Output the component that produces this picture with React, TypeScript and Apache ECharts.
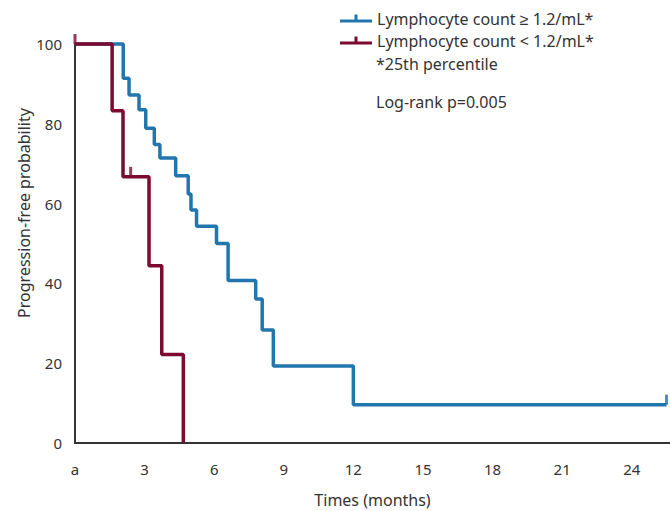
import React, { useEffect, useRef } from "react";
import * as echarts from "echarts";

const xTickLabels = ["a", "3", "6", "9", "12", "15", "18", "21", "24"];
const highName = "Lymphocyte count \u2265 1.2/mL*";
const lowName = "Lymphocyte count < 1.2/mL*";

// Kaplan-Meier steps: [time (months), survival %]
const highTimes = [0, 2.08, 2.33, 2.76, 3.05, 3.42, 3.66, 4.34, 4.88, 5.0, 5.24, 6.1, 6.6, 7.79, 8.07, 8.55, 12.0, 25.5];
const highValues = [100, 91.4, 87.2, 83.5, 78.9, 74.8, 71.4, 67.0, 62.4, 58.4, 54.3, 50.0, 40.7, 36.1, 28.3, 19.3, 9.6, 9.6];
const lowTimes = [0, 1.6, 2.07, 3.19, 3.74, 4.67];
const lowValues = [100, 83.3, 66.7, 44.4, 22.2, 0];
// censored marks
const highCensorTimes = [25.5];
const highCensorValues = [9.6];
const lowCensorTimes = [0, 2.4];
const lowCensorValues = [100, 66.7];

const BLUE = "#2176ae";
const RED = "#7c0a31";
const FONT = "'Noto Sans', sans-serif";

const legendIcon = "path://M0,5 L32,5 L32,8 L0,8 Z M14.5,0 L17.5,0 L17.5,8 L14.5,8 Z";

export default function App() {
  const ref = useRef<HTMLDivElement>(null);
  useEffect(() => {
    if (!ref.current) return;
    const chart = echarts.init(ref.current, undefined, { renderer: "svg" });
    const zip = (a: number[], b: number[]) => a.map((t, i) => [t, b[i]]);
    chart.setOption({
      animation: false,
      textStyle: { fontFamily: FONT },
      grid: { left: 75, top: 44, right: 0, bottom: 68, containLabel: false, outerBoundsMode: "none" },
      legend: {
        orient: "vertical",
        left: 335,
        top: 5,
        itemWidth: 32,
        itemHeight: 8,
        itemGap: 5,
        icon: legendIcon,
        textStyle: { fontSize: 16, lineHeight: 17, color: "#333", fontFamily: FONT, padding: [0, 0, 0, 0] },
        data: [
          { name: highName, itemStyle: { color: BLUE } },
          { name: lowName, itemStyle: { color: RED } },
        ],
      },
      graphic: [
        { type: "text", left: 376, top: 56, style: { text: "*25th percentile", fontSize: 16, fill: "#333", fontFamily: FONT } },
        { type: "text", left: 376, top: 94, style: { text: "Log-rank p=0.005", fontSize: 16, fill: "#333", fontFamily: FONT } },
        {
          type: "text",
          x: 24,
          y: 213,
          rotation: Math.PI / 2,
          style: { text: "Progression-free probability", fontSize: 16, fill: "#333", fontFamily: FONT, align: "center", verticalAlign: "middle" },
        },
      ],
      xAxis: {
        type: "value",
        min: 0,
        max: 25.65,
        interval: 3,
        name: "Times (months)",
        nameLocation: "middle",
        nameGap: 49,
        nameTextStyle: { fontSize: 16, color: "#333" },
        axisLine: { lineStyle: { color: "#333", width: 2 } },
        axisTick: { show: false },
        splitLine: { show: false },
        axisLabel: {
          fontSize: 15,
          color: "#333",
          margin: 18,
          showMaxLabel: false,
          formatter: (v: number) => {
            const i = Math.round(v / 3);
            return xTickLabels[i] ?? "";
          },
        },
      },
      yAxis: {
        type: "value",
        min: 0,
        max: 100,
        interval: 20,
        axisLine: { show: true, lineStyle: { color: "#333", width: 2 } },
        axisTick: { show: false },
        splitLine: { show: false },
        axisLabel: { fontSize: 15, color: "#333", margin: 13 },
      },
      series: [
        {
          name: highName,
          type: "line",
          step: "end",
          data: zip(highTimes, highValues),
          showSymbol: false,
          symbol: "none",
          color: BLUE,
          lineStyle: { color: BLUE, width: 3.5 },
          clip: false,
          z: 2,
        },
        {
          name: lowName,
          type: "line",
          step: "end",
          data: zip(lowTimes, lowValues),
          showSymbol: false,
          symbol: "none",
          color: RED,
          lineStyle: { color: RED, width: 3.5 },
          clip: false,
          z: 3,
        },
        {
          name: highName,
          type: "scatter",
          data: zip(highCensorTimes, highCensorValues),
          symbol: "rect",
          symbolSize: [3, 10],
          symbolOffset: [0, -5],
          itemStyle: { color: BLUE },
          clip: false,
          silent: true,
          z: 2,
        },
        {
          name: lowName,
          type: "scatter",
          data: zip(lowCensorTimes, lowCensorValues),
          symbol: "rect",
          symbolSize: [3, 10],
          symbolOffset: [0, -5],
          itemStyle: { color: RED },
          clip: false,
          silent: true,
          z: 3,
        },
      ],
    });
    return () => chart.dispose();
  }, []);
  return <div ref={ref} style={{ width: 670, height: 511, position: "absolute", left: 0, top: 0 }} />;
}
